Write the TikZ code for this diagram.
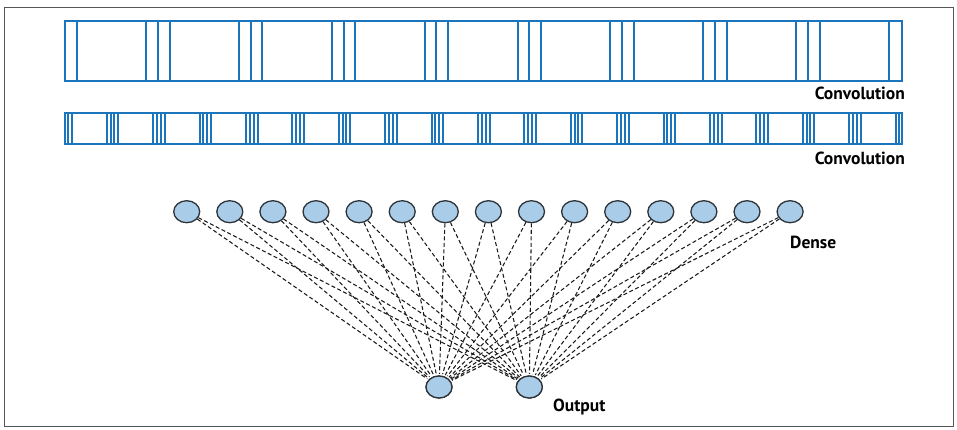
\documentclass[tikz,border=0pt]{standalone}
\usepackage{fontspec}
\setmainfont{PT Sans}
\usetikzlibrary{shapes.geometric}
\definecolor{convblue}{HTML}{1B75BC}
\definecolor{nodefill}{HTML}{A9CCE8}
\definecolor{nodeedge}{HTML}{2E3338}
\definecolor{framegray}{HTML}{555555}
\newcommand{\lblfont}{\fontsize{17.5}{20}\selectfont\bfseries}
\tikzset{
  conv/.style={draw=convblue, line width=2pt},
  convline/.style={draw=convblue, line width=2pt},
  dn/.style={ellipse, draw=nodeedge, fill=nodefill, line width=1.3pt, minimum width=26pt, minimum height=22pt, inner sep=0pt},
  lbl/.style={font=\lblfont, inner sep=0pt, text=black},
  link/.style={draw=black!90, dash pattern=on 4pt off 2.5pt, line width=1.05pt, shorten >=1.5pt},
  frame/.style={draw=framegray, line width=0.8pt}
}
\begin{document}
\begin{tikzpicture}[x=1pt,y=-1pt]
\useasboundingbox (0,0) rectangle (957,429);
\draw[frame] (4,7) rectangle (953,426);
% top convolution bar
\draw[conv] (65,21) rectangle (901.5,80.5);
\foreach \k in {0,...,9}{
  \pgfmathsetmacro{\c}{65+92.85*\k}
  \foreach \o in {-11.7,0,11.7}{
    \pgfmathsetmacro{\xx}{\c+\o}
    \pgfmathparse{(\xx>66)&&(\xx<900.5)?1:0}
    \ifnum\pgfmathresult=1
      \draw[convline] (\xx,21) -- (\xx,80.5);
    \fi
  }
}
% second convolution bar
\draw[conv] (65,112.5) rectangle (901.5,144);
\foreach \k in {0,...,18}{
  \pgfmathsetmacro{\c}{66.1+46.4*\k}
  \foreach \o in {-5.8,-1.9,1.9,5.8}{
    \pgfmathsetmacro{\xx}{\c+\o}
    \pgfmathparse{(\xx>66)&&(\xx<900.5)?1:0}
    \ifnum\pgfmathresult=1
      \draw[convline] (\xx,112.5) -- (\xx,144);
    \fi
  }
}
\node[lbl, anchor=east] (conv1) at (905,93.5) {Convolution};
\node[lbl, anchor=east] (conv2) at (905,158) {Convolution};
% dense layer
\foreach \i in {1,...,15}{
  \node[dn] (d\i) at ({186.7+43.1*(\i-1)},211.7) {};
}
\node[dn] (o1) at (439,387) {};
\node[dn] (o2) at (529.3,387) {};
\foreach \i in {1,...,15}{
  \draw[link] (d\i) -- (o1);
  \draw[link] (d\i) -- (o2);
}
\node[dn] at (o1) {};
\node[dn] at (o2) {};
\node[lbl, anchor=west] (dlab) at (790,242) {Dense};
\node[lbl, anchor=west] (olab) at (553,407) {Output};
\end{tikzpicture}
\end{document}
